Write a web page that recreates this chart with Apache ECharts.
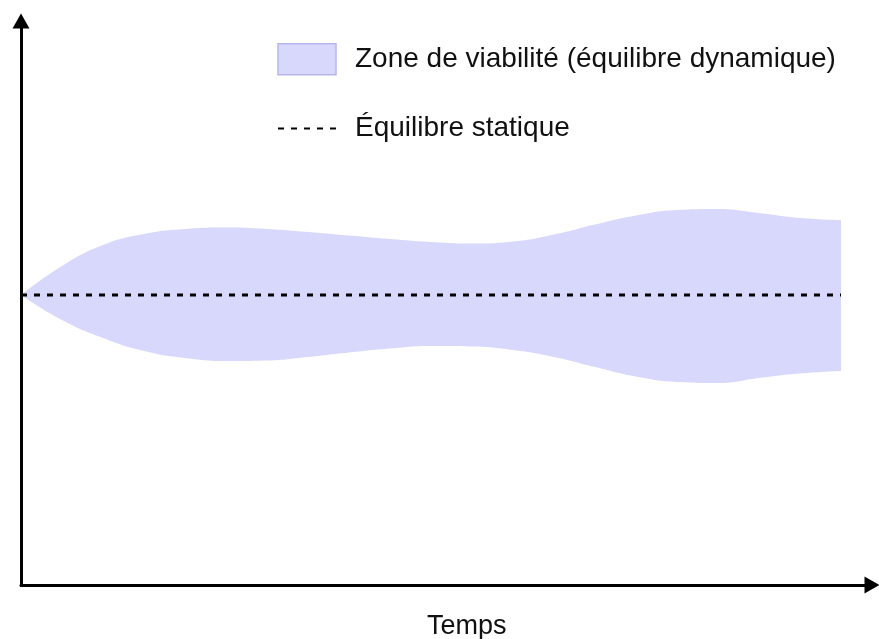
<!DOCTYPE html>
<html>
<head lang="fr">
    <meta charset="UTF-8">
    <title>Zone de viabilité</title>
    <script src="https://cdn.jsdelivr.net/npm/echarts@6/dist/echarts.min.js"></script>
    <style>
        html, body { margin: 0; padding: 0; background: #fff; }
        #chart { width: 879px; height: 639px; }
    </style>
</head>
<body>

<div id="chart"></div>

<script>
    // temps (unités arbitraires, pas régulier)
    var temps = ['0', '4.1', '8.2', '12.3', '16.4', '20.5', '24.6', '28.7', '32.8', '36.9', '41',
                 '45.1', '49.2', '53.3', '57.4', '61.5', '65.6', '69.7', '73.8', '77.9', '82'];
    // bords de la zone de viabilité, en écart à l'équilibre statique
    var bordHaut = [0, 2.9, 5.0, 6.1, 6.6, 6.75, 6.6, 6.3, 5.95, 5.6, 5.3,
                    5.15, 5.35, 6.05, 7.05, 7.95, 8.5, 8.6, 8.2, 7.7, 7.5];
    var bordBas = [0, -2.5, -4.3, -5.6, -6.3, -6.6, -6.55, -6.2, -5.75, -5.35, -5.1,
                   -5.15, -5.5, -6.2, -7.2, -8.15, -8.7, -8.8, -8.3, -7.85, -7.6];
    // niveau de l'équilibre statique sur l'axe vertical (0 à 56.4)
    var equilibre = 29;

    var nomZone = 'Zone de viabilité (équilibre dynamique)';
    var nomEquilibre = 'Équilibre statique';
    var titreAxeX = 'Temps';

    var couleurZone = '#d8d8fc';
    var police = 'Liberation Sans';

    var baseData = [];
    var largeurData = [];
    var equilibreData = [];
    temps.forEach(function (t, i) {
        baseData.push(equilibre + bordBas[i]);
        largeurData.push(bordHaut[i] - bordBas[i]);
        equilibreData.push(equilibre);
    });

    var chart = echarts.init(document.getElementById('chart'));

    var axeCache = {
        axisLine: { show: false },
        axisTick: { show: false },
        axisLabel: { show: false },
        splitLine: { show: false }
    };

    var option = {
        animation: false,
        backgroundColor: '#fff',
        grid: [
            { left: 21, right: 7, top: 21, bottom: 54 },
            { left: 21, right: 38, top: 21, bottom: 54 }
        ],
        legend: {
            orient: 'vertical',
            left: 272,
            top: 38,
            itemWidth: 58,
            itemHeight: 31,
            itemGap: 39,
            selectedMode: false,
            textStyle: {
                fontFamily: police,
                fontSize: 28,
                color: '#111',
                padding: [0, 0, 0, 14]
            },
            data: [
                { name: nomZone, icon: 'rect',
                  itemStyle: { color: couleurZone, borderColor: '#b6b6ee', borderWidth: 1.5 } },
                { name: nomEquilibre, itemStyle: { opacity: 0 } }
            ]
        },
        xAxis: [
            {
                type: 'value',
                gridIndex: 0,
                min: 0,
                max: 1,
                axisLine: {
                    onZero: false,
                    lineStyle: { color: '#000', width: 3 },
                    symbol: ['none', 'triangle'],
                    symbolSize: [17, 15]
                },
                axisTick: { show: false },
                axisLabel: { show: false },
                splitLine: { show: false }
            },
            Object.assign({
                type: 'category',
                gridIndex: 1,
                boundaryGap: false,
                data: temps
            }, axeCache)
        ],
        yAxis: [
            {
                type: 'value',
                gridIndex: 0,
                min: 0,
                max: 56.4,
                axisLine: {
                    show: true,
                    onZero: false,
                    lineStyle: { color: '#000', width: 3 },
                    symbol: ['none', 'triangle'],
                    symbolSize: [17, 15]
                },
                axisTick: { show: false },
                axisLabel: { show: false },
                splitLine: { show: false }
            },
            Object.assign({
                type: 'value',
                gridIndex: 1,
                min: 0,
                max: 56.4
            }, axeCache)
        ],
        graphic: [{
            type: 'text',
            left: 427,
            top: 613,
            style: {
                text: titreAxeX,
                font: '27px "' + police + '"',
                fill: '#111'
            }
        }],
        series: [
            {
                name: 'base',
                type: 'line',
                xAxisIndex: 1,
                yAxisIndex: 1,
                stack: 'zone',
                data: baseData,
                smooth: 0.5,
                symbol: 'none',
                lineStyle: { width: 0, opacity: 0 },
                silent: true
            },
            {
                name: nomZone,
                type: 'line',
                xAxisIndex: 1,
                yAxisIndex: 1,
                stack: 'zone',
                data: largeurData,
                smooth: 0.5,
                symbol: 'none',
                itemStyle: { color: couleurZone },
                lineStyle: { width: 0, opacity: 0 },
                areaStyle: { color: couleurZone, opacity: 1 },
                silent: true
            },
            {
                name: nomEquilibre,
                type: 'line',
                xAxisIndex: 1,
                yAxisIndex: 1,
                data: equilibreData,
                symbol: 'none',
                itemStyle: { color: '#000' },
                lineStyle: { color: '#000', width: 3, type: [6, 7] },
                z: 5,
                silent: true
            }
        ]
    };

    chart.setOption(option);
</script>
</body>
</html>
